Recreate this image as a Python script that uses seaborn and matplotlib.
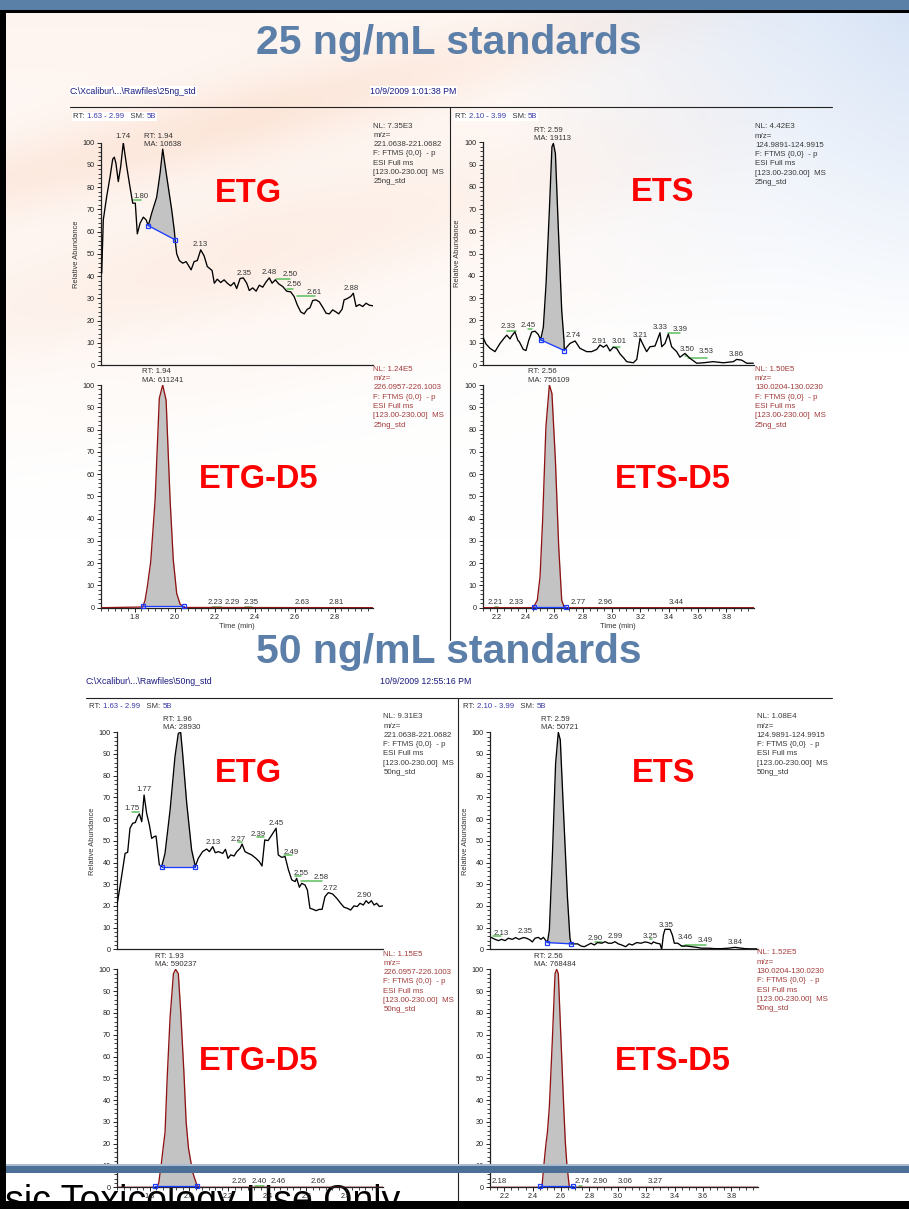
import numpy as np
import pandas as pd
import matplotlib
matplotlib.use("Agg")
import matplotlib.pyplot as plt
from matplotlib.patches import Rectangle
from matplotlib.ticker import MultipleLocator, AutoMinorLocator
import seaborn as sns

# ---------------------------------------------------------------------------
# Extracted-ion chromatograms: (retention time [min], relative abundance [%])
# ---------------------------------------------------------------------------
ETG_25 = [(1.635, 41.3), (1.643, 65.3), (1.660, 75.8), (1.677, 84.8), (1.690, 92.6), (1.698, 93.5),
          (1.706, 90.8), (1.718, 82.5), (1.730, 89.3), (1.743, 100.0), (1.760, 89.3), (1.776, 80.3),
          (1.790, 72.8), (1.803, 72.8), (1.813, 59.0), (1.827, 63.8), (1.843, 66.5), (1.857, 65.3),
          (1.868, 62.7), (1.885, 68.3), (1.910, 75.5), (1.927, 86.3), (1.940, 97.1), (1.960, 84.8),
          (1.985, 69.8), (1.998, 60.5), (2.002, 56.3), (2.010, 50.0), (2.023, 47.0), (2.040, 45.8),
          (2.057, 46.5), (2.068, 44.9), (2.082, 42.8), (2.097, 46.5), (2.113, 47.0), (2.130, 51.8),
          (2.147, 49.1), (2.163, 44.3), (2.187, 42.5), (2.198, 36.8), (2.213, 38.6), (2.230, 37.1),
          (2.247, 38.3), (2.263, 36.8), (2.280, 35.6), (2.297, 37.1), (2.310, 34.4), (2.327, 38.9),
          (2.343, 39.2), (2.360, 36.8), (2.373, 33.5), (2.390, 34.7), (2.407, 33.2), (2.423, 35.9),
          (2.440, 35.0), (2.457, 37.4), (2.473, 39.2), (2.487, 36.8), (2.503, 38.3), (2.520, 36.5),
          (2.540, 35.3), (2.560, 33.2), (2.580, 32.9), (2.597, 30.8), (2.613, 27.0), (2.630, 23.9),
          (2.647, 23.0), (2.663, 25.1), (2.676, 25.7), (2.690, 29.0), (2.706, 29.3), (2.723, 28.4),
          (2.740, 26.0), (2.757, 23.3), (2.773, 23.0), (2.790, 24.8), (2.806, 23.9), (2.820, 23.0),
          (2.837, 25.1), (2.847, 29.3), (2.863, 29.9), (2.880, 30.8), (2.893, 32.3), (2.907, 26.3),
          (2.923, 27.2), (2.940, 26.3), (2.957, 27.8), (2.973, 26.9), (2.993, 26.6)]

ETS_25 = [(2.101, 11.7), (2.106, 12.0), (2.124, 9.5), (2.152, 7.5), (2.187, 6.0), (2.222, 9.7),
          (2.250, 12.0), (2.269, 13.4), (2.292, 11.7), (2.303, 13.0), (2.326, 14.9), (2.347, 11.0),
          (2.356, 10.5), (2.384, 7.0), (2.403, 6.5), (2.422, 11.0), (2.443, 14.8), (2.466, 15.2),
          (2.489, 13.7), (2.505, 11.3), (2.524, 17.0), (2.543, 36.5), (2.566, 69.5), (2.584, 98.0),
          (2.594, 99.5), (2.608, 95.0), (2.628, 62.0), (2.652, 24.5), (2.668, 11.0), (2.670, 6.5),
          (2.687, 8.0), (2.710, 9.7), (2.745, 10.8), (2.779, 7.5), (2.826, 6.0), (2.861, 6.0),
          (2.896, 7.0), (2.919, 9.0), (2.942, 8.0), (2.965, 9.0), (2.988, 6.3), (3.012, 8.0),
          (3.035, 7.5), (3.058, 5.0), (3.086, 3.0), (3.105, 1.5), (3.151, 1.0), (3.175, 2.5),
          (3.198, 12.0), (3.220, 9.0), (3.244, 6.0), (3.267, 8.2), (3.302, 8.5), (3.318, 11.2),
          (3.337, 14.5), (3.349, 8.2), (3.372, 9.7), (3.395, 13.9), (3.418, 8.2), (3.453, 6.0),
          (3.476, 3.5), (3.511, 5.2), (3.546, 3.0), (3.593, 0.8), (3.639, 1.0), (3.708, 1.5),
          (3.778, 1.0), (3.848, 1.5), (3.871, 2.5), (3.906, 2.2), (3.941, 0.8), (3.987, 0.8)]

ETG_D5_25 = [(1.630, 0.0), (1.840, 0.3), (1.852, 3.4), (1.863, 9.4), (1.880, 20.6), (1.902, 48.3),
             (1.923, 94.0), (1.940, 100.0), (1.957, 93.2), (1.977, 48.3), (1.993, 21.4), (2.010, 6.4),
             (2.027, 1.6), (2.047, 0.1), (2.990, 0.0)]

ETS_D5_25 = [(2.100, 0.0), (2.454, 0.0), (2.482, 3.4), (2.501, 13.9), (2.519, 39.3), (2.542, 81.3),
             (2.566, 100.0), (2.584, 96.2), (2.608, 66.3), (2.631, 27.4), (2.652, 3.4), (2.668, 0.4),
             (2.690, 0.0), (3.990, 0.0)]

ETG_50 = [(1.630, 19.7), (1.647, 28.9), (1.673, 44.2), (1.686, 44.7), (1.698, 55.8), (1.712, 58.1),
          (1.725, 58.4), (1.737, 61.1), (1.746, 62.4), (1.758, 58.8), (1.770, 71.1), (1.783, 62.7),
          (1.797, 57.3), (1.809, 51.1), (1.821, 51.9), (1.831, 52.2), (1.848, 38.9), (1.860, 38.1),
          (1.877, 44.2), (1.903, 64.2), (1.928, 88.8), (1.945, 99.5), (1.957, 100.0), (1.967, 90.3),
          (1.988, 67.3), (2.013, 45.8), (2.032, 38.2), (2.047, 41.9), (2.069, 45.0), (2.090, 46.2),
          (2.104, 45.0), (2.121, 47.3), (2.134, 44.5), (2.150, 45.0), (2.172, 44.2), (2.186, 46.1),
          (2.199, 41.9), (2.213, 43.5), (2.230, 43.0), (2.244, 45.0), (2.261, 46.5), (2.271, 48.5),
          (2.286, 45.0), (2.303, 44.2), (2.320, 43.5), (2.342, 41.9), (2.359, 40.4), (2.373, 38.4),
          (2.387, 50.4), (2.404, 50.1), (2.423, 52.7), (2.445, 55.8), (2.456, 43.5), (2.473, 42.4),
          (2.491, 42.7), (2.508, 36.6), (2.525, 32.0), (2.542, 31.2), (2.550, 32.7), (2.564, 28.6),
          (2.576, 30.4), (2.593, 29.6), (2.605, 27.3), (2.618, 18.9), (2.635, 18.4), (2.649, 17.8),
          (2.666, 18.4), (2.680, 18.4), (2.695, 24.3), (2.712, 26.1), (2.734, 25.5), (2.755, 23.5),
          (2.775, 21.2), (2.792, 19.4), (2.809, 18.9), (2.826, 18.1), (2.843, 20.0), (2.860, 19.7),
          (2.874, 21.2), (2.891, 20.4), (2.905, 22.4), (2.918, 21.2), (2.932, 22.4), (2.946, 20.4),
          (2.959, 21.2), (2.973, 19.7), (2.990, 20.0)]

ETS_50 = [(2.107, 5.5), (2.135, 4.6), (2.159, 4.0), (2.182, 4.6), (2.206, 4.0), (2.229, 5.1),
          (2.257, 4.6), (2.281, 5.4), (2.304, 4.6), (2.335, 5.4), (2.358, 5.1), (2.382, 4.3),
          (2.398, 3.4), (2.417, 5.1), (2.440, 5.5), (2.459, 4.6), (2.476, 5.5), (2.504, 3.1),
          (2.518, 8.9), (2.539, 42.7), (2.562, 85.7), (2.581, 100.0), (2.595, 96.5), (2.616, 65.7),
          (2.645, 24.3), (2.663, 5.1), (2.673, 2.5), (2.694, 2.5), (2.717, 2.5), (2.741, 1.5),
          (2.764, 1.2), (2.788, 2.0), (2.811, 2.8), (2.835, 2.0), (2.858, 3.1), (2.887, 2.8),
          (2.910, 3.5), (2.933, 2.8), (2.957, 2.8), (2.980, 3.5), (3.004, 2.5), (3.027, 2.0),
          (3.055, 1.2), (3.079, 2.5), (3.102, 2.0), (3.133, 3.1), (3.163, 2.8), (3.192, 3.4),
          (3.215, 3.1), (3.238, 2.5), (3.250, 3.4), (3.274, 2.8), (3.297, 2.5), (3.309, 0.0),
          (3.321, 6.6), (3.332, 9.2), (3.368, 9.2), (3.384, 6.6), (3.398, 2.8), (3.422, 2.8),
          (3.450, 1.5), (3.485, 1.5), (3.520, 1.2), (3.555, 0.9), (3.591, 0.5), (3.638, 0.5),
          (3.685, 0.3), (3.731, 0.3), (3.778, 0.5), (3.825, 0.9), (3.861, 0.6), (3.896, 0.3),
          (3.943, 0.2), (3.978, 0.2)]

ETG_D5_50 = [(1.630, 0.0), (1.835, 0.0), (1.845, 2.0), (1.857, 10.0), (1.870, 20.0), (1.877, 25.0),
             (1.889, 52.0), (1.903, 78.0), (1.920, 98.0), (1.931, 100.0), (1.945, 98.0), (1.957, 81.0),
             (1.974, 52.0), (1.985, 30.0), (1.997, 18.0), (2.018, 7.0), (2.040, 1.0), (2.050, 0.0),
             (2.990, 0.0)]

ETS_D5_50 = [(2.100, 0.0), (2.450, 0.0), (2.466, 0.3), (2.479, 10.0), (2.494, 20.0), (2.504, 25.0),
             (2.518, 37.0), (2.539, 67.5), (2.558, 98.0), (2.569, 100.0), (2.581, 98.0), (2.600, 67.5),
             (2.619, 37.0), (2.631, 20.0), (2.642, 10.0), (2.658, 0.5), (2.670, 0.0), (3.990, 0.0)]

# integration baselines: (start time, abundance), (end time, abundance)
ETG_25_BASE = [(1.868, 62.7), (2.002, 56.3)]
ETS_25_BASE = [(2.505, 11.3), (2.670, 6.5)]
ETG_D5_25_BASE = [(1.840, 0.6), (2.047, 0.6)]
ETS_D5_25_BASE = [(2.461, 0.4), (2.679, 0.4)]
ETG_50_BASE = [(1.860, 38.1), (2.032, 38.1)]
ETS_50_BASE = [(2.504, 3.1), (2.673, 2.5)]
ETG_D5_50_BASE = [(1.828, 0.6), (2.040, 0.6)]
ETS_D5_50_BASE = [(2.454, 0.6), (2.683, 0.6)]

# integrated peak: retention time and area
ETG_25_PEAK = (1.94, "10638")
ETS_25_PEAK = (2.59, "19113")
ETG_D5_25_PEAK = (1.94, "611241")
ETS_D5_25_PEAK = (2.56, "756109")
ETG_50_PEAK = (1.96, "28930")
ETS_50_PEAK = (2.59, "50721")
ETG_D5_50_PEAK = (1.93, "590237")
ETS_D5_50_PEAK = (2.56, "768484")

# apex labels: (text, time, abundance at the foot of the label)
ETG_25_LABELS = [("1.74", 1.743, 101.0), ("1.80", 1.832, 74.0), ("2.13", 2.127, 52.6),
                 ("2.35", 2.348, 39.8), ("2.48", 2.473, 40.1), ("2.50", 2.577, 39.0),
                 ("2.56", 2.598, 34.5), ("2.61", 2.698, 31.2), ("2.88", 2.882, 33.0)]
ETS_25_LABELS = [("2.33", 2.280, 15.5), ("2.45", 2.419, 16.3), ("2.74", 2.733, 11.6),
                 ("2.91", 2.914, 9.1), ("3.01", 3.054, 9.1), ("3.21", 3.198, 11.6),
                 ("3.33", 3.337, 15.4), ("3.39", 3.476, 14.5), ("3.50", 3.527, 5.3),
                 ("3.53", 3.662, 4.5), ("3.86", 3.871, 3.0)]
ETG_D5_25_LABELS = [("2.23", 2.200, 0.8), ("2.29", 2.290, 0.8), ("2.35", 2.380, 0.8),
                    ("2.63", 2.635, 0.8), ("2.81", 2.807, 0.8)]
ETS_D5_25_LABELS = [("2.21", 2.187, 0.8), ("2.33", 2.333, 0.8), ("2.77", 2.768, 0.8),
                    ("2.96", 2.958, 0.8), ("3.44", 3.448, 0.8)]
ETG_50_LABELS = [("1.75", 1.707, 63.1), ("1.77", 1.771, 72.2), ("2.13", 2.124, 47.6),
                 ("2.27", 2.249, 48.8), ("2.39", 2.351, 51.5), ("2.45", 2.443, 56.5),
                 ("2.49", 2.521, 43.0), ("2.55", 2.572, 33.5), ("2.58", 2.678, 31.6),
                 ("2.72", 2.721, 26.6), ("2.90", 2.896, 23.2)]
ETS_50_LABELS = [("2.13", 2.177, 5.8), ("2.35", 2.346, 6.6), ("2.90", 2.839, 3.5),
                 ("2.99", 2.980, 4.3), ("3.25", 3.227, 4.3), ("3.35", 3.337, 9.5),
                 ("3.46", 3.473, 4.0), ("3.49", 3.614, 2.5), ("3.84", 3.825, 1.5)]
ETG_D5_50_LABELS = [("2.26", 2.257, 1.2), ("2.40", 2.358, 1.2), ("2.46", 2.456, 1.2),
                    ("2.66", 2.658, 1.2)]
ETS_D5_50_LABELS = [("2.18", 2.168, 1.2), ("2.74", 2.752, 1.2), ("2.90", 2.879, 1.2),
                    ("3.06", 3.051, 1.2), ("3.27", 3.261, 1.2)]

# green peak-detection marks: (start time, end time, abundance)
ETG_25_MARKS = [(1.793, 1.830, 74.0), (2.506, 2.577, 38.6), (2.560, 2.593, 34.1), (2.610, 2.702, 31.2)]
ETS_25_MARKS = [(2.273, 2.333, 15.2), (2.419, 2.443, 16.1), (3.012, 3.058, 8.0),
                (3.395, 3.476, 14.3), (3.511, 3.527, 4.0), (3.534, 3.662, 3.0)]
ETG_D5_25_MARKS = [(2.185, 2.230, 0.5), (2.352, 2.385, 0.5)]
ETS_D5_25_MARKS = [(2.187, 2.210, 0.5)]
ETG_50_MARKS = [(1.707, 1.744, 63.1), (2.252, 2.269, 49.3), (2.346, 2.383, 51.6),
                (2.486, 2.525, 43.5), (2.542, 2.572, 33.8), (2.571, 2.678, 31.5)]
ETS_50_MARKS = [(2.123, 2.177, 6.1), (2.839, 2.886, 3.5), (3.227, 3.243, 4.6),
                (3.445, 3.473, 1.5), (3.473, 3.619, 2.2)]
ETG_D5_50_MARKS = [(2.337, 2.382, 0.5)]
ETS_D5_50_MARKS = [(2.730, 2.750, 0.5)]

# scan filter header values
NL_VALUES = {"etg25": "7.35E3", "ets25": "4.42E3", "etgd25": "1.24E5", "etsd25": "1.50E5",
             "etg50": "9.31E3", "ets50": "1.08E4", "etgd50": "1.15E5", "etsd50": "1.52E5"}
MZ_RANGES = {"ETG": "221.0638-221.0682", "ETS": "124.9891-124.9915",
             "ETG-D5": "226.0957-226.1003", "ETS-D5": "130.0204-130.0230"}
RT_RANGES = {"ETG": "1.63 - 2.99", "ETS": "2.10 - 3.99"}
RAW_FILES = {"25": r"C:\Xcalibur\...\Rawfiles\25ng_std", "50": r"C:\Xcalibur\...\Rawfiles\50ng_std"}
ACQ_DATES = {"25": "10/9/2009 1:01:38 PM", "50": "10/9/2009 12:55:16 PM"}
SECTION_TITLES = {"25": "25 ng/mL standards", "50": "50 ng/mL standards"}
FOOTER = "Forensic Toxicology Use Only"

# ---------------------------------------------------------------------------
W, H = 909, 1209
sns.set_theme(style="ticks")
plt.rcParams["font.family"] = ["Liberation Sans", "DejaVu Sans"]

fig = plt.figure(figsize=(W / 100, H / 100), dpi=100)


def fx(px):
    return px / W


def fy(py):
    return 1 - py / H


def rect(left, top, right, bottom):
    return [fx(left), fy(bottom), (right - left) / W, (bottom - top) / H]


# slide background: warm swoosh on the upper left, cool tint on the upper right
yy, xx = np.mgrid[0:H, 0:W].astype(float)
d = yy + 0.26 * xx
fade = np.clip(1 - (yy - 20) / 520, 0, 1) ** 1.3
leftw = np.clip(1 - (xx - 250) / 550, 0, 1)
band = (np.exp(-((d - 330) / 70) ** 2) + 0.8 * np.exp(-((d - 185) / 40) ** 2)
        + 0.5 * np.exp(-((d - 445) / 35) ** 2))
w_warm = fade * leftw * (0.20 + 0.55 * band)
w_blue = np.clip(1 - (yy - 20) / 330, 0, 1) * np.clip((xx - 500) / 400, 0, 1) * 0.75
warm = np.array([0.98, 0.80, 0.70])
cool = np.array([0.80, 0.86, 0.95])
bg = np.ones((H, W, 3))
bg -= w_warm[..., None] * (1 - warm)
bg -= w_blue[..., None] * (1 - cool)
bg = np.clip(bg, 0, 1)
bg_ax = fig.add_axes([0, 0, 1, 1], zorder=-10)
bg_ax.imshow(bg, aspect="auto", extent=[0, W, H, 0], interpolation="bilinear")
bg_ax.set_axis_off()

TITLE_BLUE = "#5b7fa8"
INFO_GRAY = "#3a3a3a"
INFO_RED = "#a23c3c"
HDR_BLUE = "#3a3aa8"

renderer = fig.canvas.get_renderer()


def text_run(pieces, px, py, size):
    """Consecutive coloured text fragments on one line, on a white strip."""
    x = px
    drawn = []
    for s, c in pieces:
        t = fig.text(fx(x), fy(py), s, color=c, fontsize=size, ha="left", va="center", zorder=4)
        x += t.get_window_extent(renderer).width
        drawn.append(t)
    fig.add_artist(Rectangle((fx(px - 1), fy(py + 4.5)), (x - px + 2) / W, 9 / H,
                             facecolor="white", edgecolor="none", transform=fig.transFigure,
                             zorder=3))


def draw_panel(spec):
    ax = fig.add_axes(rect(*spec["rect"]))
    ax.set_facecolor("none")
    df = pd.DataFrame(spec["trace"], columns=["time", "abundance"])
    (t0, v0), (t1, v1) = spec["base"]
    inside = df[(df.time > t0) & (df.time < t1)]
    tt = np.concatenate([[t0], inside.time.values, [t1]])
    yv = np.interp(tt, df.time, df.abundance)
    bv = np.interp(tt, [t0, t1], [v0, v1])
    ax.fill_between(tt, bv, yv, color="#c3c3c3", lw=0, zorder=1)
    sns.lineplot(data=df, x="time", y="abundance", estimator=None, sort=False,
                 color=spec["color"], lw=0.95, ax=ax, zorder=3)
    ax.plot([t0, t1], [v0, v1], color="#1c3cff", lw=0.95, marker="s", ms=3.4,
            mfc="none", mec="#1c3cff", mew=0.9, zorder=4, clip_on=False)

    for a, b, v in spec["marks"]:
        ax.plot([a, b], [v, v], color="#5cbf5c", lw=1.1, zorder=2, clip_on=False)
    for s, t, v in spec["labels"]:
        ax.text(t, v, s, fontsize=5.6, color="#333333", ha="center", va="bottom",
                clip_on=False, zorder=5)

    rt, ma = spec["peak"]
    apex = df[(df.time >= t0) & (df.time <= t1)].abundance.max()
    ax.annotate(f"RT: {rt:.2f}\nMA: {ma}", xy=(rt, apex), xytext=(0, 1.0),
                textcoords="offset points", ha="center", va="bottom", fontsize=5.6,
                color="#333333", linespacing=1.25, multialignment="left", annotation_clip=False)

    ax.set_xlim(*spec["xlim"])
    ax.set_ylim(0, 100)
    ax.yaxis.set_major_locator(MultipleLocator(10))
    ax.yaxis.set_minor_locator(AutoMinorLocator(5))
    ax.xaxis.set_major_locator(MultipleLocator(0.2))
    ax.xaxis.set_minor_locator(AutoMinorLocator(spec["xminor"]))
    ax.xaxis.set_major_formatter(matplotlib.ticker.FormatStrFormatter("%.1f"))
    for side in ("top", "right"):
        ax.spines[side].set_visible(False)
    for side in ("left", "bottom"):
        ax.spines[side].set_color("#222222")
        ax.spines[side].set_linewidth(0.9)
    ax.tick_params(axis="both", which="major", length=3.2, width=0.7, labelsize=5.2,
                   colors="#222222", pad=1.2, direction="out")
    ax.tick_params(axis="both", which="minor", length=2.0, width=0.6, colors="#222222",
                   direction="out")
    ax.tick_params(axis="y", which="both", left=True)
    if spec["bottom"]:
        ax.tick_params(axis="x", which="both", bottom=True, labelbottom=True)
        ax.set_xlabel("Time (min)", fontsize=5.4, color="#333333", labelpad=1.5)
    else:
        ax.tick_params(axis="x", which="both", bottom=False, labelbottom=False)
        ax.set_xlabel("")
    if spec["ylabel"]:
        ax.set_ylabel("Relative Abundance", fontsize=5.4, color="#333333", labelpad=2)
    else:
        ax.set_ylabel("")

    ix, iy = spec["info_at"]
    info = [f"NL: {spec['nl']}", "m/z=", spec["mz"], "F: FTMS {0,0}  - p", "ESI Full ms",
            "[123.00-230.00]  MS", spec["sample"]]
    for i, line in enumerate(info):
        fig.text(fx(ix), fy(iy + 9.3 * i), line, fontsize=5.7, color=spec["info_color"],
                 ha="left", va="center")
    if "header_at" in spec:
        hx, hy = spec["header_at"]
        text_run([("RT: ", "#333333"), (spec["rt_range"], HDR_BLUE), ("   SM: ", "#333333"),
                  ("5B", HDR_BLUE)], hx, hy, 5.6)
    nx, ny = spec["name_at"]
    fig.text(fx(nx), fy(ny), spec["name"], fontsize=23.5, fontweight="bold", color="#ff0000",
             ha="center", va="baseline", zorder=6)


PANELS = [
    dict(name="ETG", trace=ETG_25, base=ETG_25_BASE, peak=ETG_25_PEAK, labels=ETG_25_LABELS,
         marks=ETG_25_MARKS, color="black", xlim=(1.63, 2.99), xminor=6, bottom=False, ylabel=True,
         rect=(100.7, 142.7, 372.7, 365.0), nl=NL_VALUES["etg25"], mz=MZ_RANGES["ETG"],
         sample="25ng_std", info_at=(373.3, 126.0), info_color=INFO_GRAY,
         header_at=(73.3, 116.7), rt_range=RT_RANGES["ETG"], name_at=(248.5, 201.5)),
    dict(name="ETG-D5", trace=ETG_D5_25, base=ETG_D5_25_BASE, peak=ETG_D5_25_PEAK,
         labels=ETG_D5_25_LABELS, marks=ETG_D5_25_MARKS, color="#8e1414", xlim=(1.63, 2.99),
         xminor=6, bottom=True, ylabel=False, rect=(100.7, 385.0, 372.7, 607.7),
         nl=NL_VALUES["etgd25"], mz=MZ_RANGES["ETG-D5"], sample="25ng_std",
         info_at=(373.3, 369.3), info_color=INFO_RED, name_at=(259.0, 488.3)),
    dict(name="ETS", trace=ETS_25, base=ETS_25_BASE, peak=ETS_25_PEAK, labels=ETS_25_LABELS,
         marks=ETS_25_MARKS, color="black", xlim=(2.10, 3.99), xminor=4, bottom=False, ylabel=True,
         rect=(482.5, 142.3, 753.7, 365.0), nl=NL_VALUES["ets25"], mz=MZ_RANGES["ETS"],
         sample="25ng_std", info_at=(755.0, 126.7), info_color=INFO_GRAY,
         header_at=(455.0, 116.7), rt_range=RT_RANGES["ETS"], name_at=(663.0, 200.7)),
    dict(name="ETS-D5", trace=ETS_D5_25, base=ETS_D5_25_BASE, peak=ETS_D5_25_PEAK,
         labels=ETS_D5_25_LABELS, marks=ETS_D5_25_MARKS, color="#8e1414", xlim=(2.10, 3.99),
         xminor=4, bottom=True, ylabel=False, rect=(482.5, 385.0, 753.7, 607.7),
         nl=NL_VALUES["etsd25"], mz=MZ_RANGES["ETS-D5"], sample="25ng_std",
         info_at=(755.0, 369.3), info_color=INFO_RED, name_at=(672.5, 488.3)),
    dict(name="ETG", trace=ETG_50, base=ETG_50_BASE, peak=ETG_50_PEAK, labels=ETG_50_LABELS,
         marks=ETG_50_MARKS, color="black", xlim=(1.63, 2.99), xminor=6, bottom=False, ylabel=True,
         rect=(116.7, 732.3, 382.7, 949.3), nl=NL_VALUES["etg50"], mz=MZ_RANGES["ETG"],
         sample="50ng_std", info_at=(383.3, 716.7), info_color=INFO_GRAY,
         header_at=(89.3, 706.7), rt_range=RT_RANGES["ETG"], name_at=(248.7, 781.7)),
    dict(name="ETG-D5", trace=ETG_D5_50, base=ETG_D5_50_BASE, peak=ETG_D5_50_PEAK,
         labels=ETG_D5_50_LABELS, marks=ETG_D5_50_MARKS, color="#8e1414", xlim=(1.63, 2.99),
         xminor=6, bottom=True, ylabel=False, rect=(116.7, 969.3, 382.7, 1187.3),
         nl=NL_VALUES["etgd50"], mz=MZ_RANGES["ETG-D5"], sample="50ng_std",
         info_at=(383.3, 954.0), info_color=INFO_RED, name_at=(259.0, 1070.0)),
    dict(name="ETS", trace=ETS_50, base=ETS_50_BASE, peak=ETS_50_PEAK, labels=ETS_50_LABELS,
         marks=ETS_50_MARKS, color="black", xlim=(2.10, 3.99), xminor=4, bottom=False, ylabel=True,
         rect=(490.0, 732.3, 758.4, 949.3), nl=NL_VALUES["ets50"], mz=MZ_RANGES["ETS"],
         sample="50ng_std", info_at=(756.7, 716.7), info_color=INFO_GRAY,
         header_at=(463.3, 706.7), rt_range=RT_RANGES["ETS"], name_at=(663.3, 781.7)),
    dict(name="ETS-D5", trace=ETS_D5_50, base=ETS_D5_50_BASE, peak=ETS_D5_50_PEAK,
         labels=ETS_D5_50_LABELS, marks=ETS_D5_50_MARKS, color="#8e1414", xlim=(2.10, 3.99),
         xminor=4, bottom=True, ylabel=False, rect=(490.0, 969.3, 758.4, 1187.3),
         nl=NL_VALUES["etsd50"], mz=MZ_RANGES["ETS-D5"], sample="50ng_std",
         info_at=(756.7, 953.0), info_color=INFO_RED, name_at=(673.0, 1070.0)),
]

for spec in PANELS:
    draw_panel(spec)

# section titles, raw-file paths and acquisition dates
for key, title_y, path_xy, date_x in (("25", 53.5, (70, 91), 370), ("50", 663.3, (86, 681), 380)):
    fig.text(0.494, fy(title_y), SECTION_TITLES[key], fontsize=29.5, fontweight="bold",
             color=TITLE_BLUE, ha="center", va="baseline", zorder=4)
    fig.text(fx(path_xy[0]), fy(path_xy[1]), RAW_FILES[key], fontsize=6.3, color="#1a1a80",
             ha="left", va="center", bbox=dict(facecolor="white", edgecolor="none", pad=0.3))
    fig.text(fx(date_x), fy(path_xy[1]), ACQ_DATES[key], fontsize=6.3, color="#1a1a80",
             ha="left", va="center", bbox=dict(facecolor="white", edgecolor="none", pad=0.3))

# report frame lines
frame = [((70, 832), (107, 107)), ((449.5, 449.5), (107, 640)),
         ((86, 832), (697.7, 697.7)), ((457.7, 457.7), (697.7, 1209))]
for (xa, xb), (ya, yb) in frame:
    fig.add_artist(plt.Line2D([fx(xa), fx(xb)], [fy(ya), fy(yb)], color="#222222", lw=0.8,
                              transform=fig.transFigure, zorder=2))

# footer text partly hidden below the slide edge
fig.text(fx(400), fy(1212.5), FOOTER, fontsize=27, color="black", ha="right", va="baseline",
         zorder=-1)

# slide decorations: top banner, left edge, blue rule and bottom edge
for (x0, y0, x1, y1), col, z in [((0, 0, W, 10), "#5b80a8", 7), ((0, 10, W, 12.6), "black", 7),
                                 ((0, 10, 5.8, H), "black", 7),
                                 ((5.8, 1163.5, W, 1165.5), "#a9bccf", 7),
                                 ((5.8, 1165.5, W, 1173.0), "#4d7096", 7),
                                 ((0, 1200.7, W, H), "black", 8)]:
    fig.add_artist(Rectangle((fx(x0), fy(y1)), (x1 - x0) / W, (y1 - y0) / H, facecolor=col,
                             edgecolor="none", transform=fig.transFigure, zorder=z))

fig.savefig("out.png", dpi=100)
